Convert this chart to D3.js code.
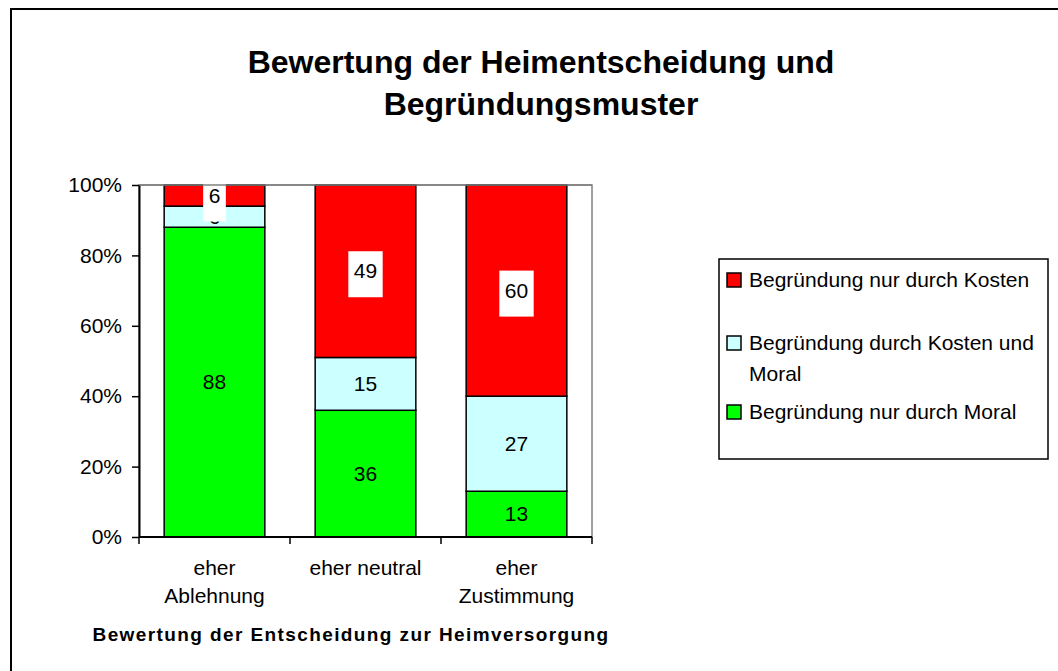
<!DOCTYPE html>
<html>
<head>
<meta charset="utf-8">
<script src="https://cdn.jsdelivr.net/npm/d3@7"></script>
<style>
  body { margin: 0; background: #fff; }
  svg text { font-family: "Liberation Sans", Arial, sans-serif; fill: #000; }
</style>
</head>
<body>
<svg id="chart" width="1058" height="671"></svg>
<script>
// data
var categories = ["eher Ablehnung", "eher neutral", "eher Zustimmung"];
var tickLabels = [["eher", "Ablehnung"], ["eher neutral"], ["eher", "Zustimmung"]];
var moral = [88, 36, 13];          // Begründung nur durch Moral
var kostenMoral = [6, 15, 27];     // Begründung durch Kosten und Moral
var kosten = [6, 49, 60];          // Begründung nur durch Kosten
var yTicks = [0, 20, 40, 60, 80, 100];

var series = [
  { name: "Begründung nur durch Moral", values: moral, color: "#00ff00", box: false },
  { name: "Begründung durch Kosten und Moral", values: kostenMoral, color: "#ccffff", box: false },
  { name: "Begründung nur durch Kosten", values: kosten, color: "#ff0000", box: true }
];
// legend lists top series first, long name wraps
var legendItems = [
  { lines: ["Begründung nur durch Kosten"], color: "#ff0000" },
  { lines: ["Begründung durch Kosten und", "Moral"], color: "#ccffff" },
  { lines: ["Begründung nur durch Moral"], color: "#00ff00" }
];

var svg = d3.select("#chart");

// chart area border (runs off right/bottom)
svg.append("rect")
  .attr("x", 11).attr("y", 9)
  .attr("width", 1100).attr("height", 700)
  .attr("fill", "none").attr("stroke", "#000").attr("stroke-width", 2);

// title
var title = svg.append("text")
  .attr("text-anchor", "middle")
  .attr("font-size", 32).attr("font-weight", "bold");
title.append("tspan").attr("x", 541).attr("y", 73).text("Bewertung der Heimentscheidung und");
title.append("tspan").attr("x", 541).attr("y", 115).text("Begründungsmuster");

var pLeft = 139, pRight = 592, pTop = 185, pBottom = 537;

var x = d3.scaleBand()
  .domain(categories)
  .range([pLeft, pRight])
  .paddingInner(1 / 3)
  .paddingOuter(1 / 6);

var y = d3.scaleLinear().domain([0, 100]).range([pBottom, pTop]);

// plot area border (gray)
svg.append("rect")
  .attr("x", pLeft).attr("y", pTop)
  .attr("width", pRight - pLeft).attr("height", pBottom - pTop)
  .attr("fill", "none").attr("stroke", "#808080").attr("stroke-width", 1.5);

// stack
var stack = d3.stack().keys(d3.range(series.length))
  .value(function (d, k) { return series[k].values[d]; });
var stacked = stack(d3.range(categories.length));

var layers = svg.selectAll("g.layer")
  .data(stacked)
  .join("g")
  .attr("class", "layer")
  .attr("fill", function (d, i) { return series[i].color; });

layers.selectAll("rect")
  .data(function (d) { return d; })
  .join("rect")
  .attr("x", function (d, i) { return x(categories[i]); })
  .attr("width", x.bandwidth())
  .attr("y", function (d) { return y(d[1]); })
  .attr("height", function (d) { return y(d[0]) - y(d[1]); })
  .attr("stroke", "#000")
  .attr("stroke-width", 1.5);

// data labels
stacked.forEach(function (layer, k) {
  layer.forEach(function (d, i) {
    var cx = x(categories[i]) + x.bandwidth() / 2;
    var cy = y((d[0] + d[1]) / 2);
    var g = svg.append("g");
    var t = g.append("text")
      .attr("x", cx).attr("y", cy + 7)
      .attr("text-anchor", "middle")
      .attr("font-size", 21)
      .text(series[k].values[i]);
    if (series[k].box) {
      var w = t.node().getComputedTextLength() + 11;
      g.insert("rect", "text")
        .attr("x", cx - w / 2).attr("y", cy - 20)
        .attr("width", w).attr("height", 46)
        .attr("fill", "#fff");
    }
  });
});

// redraw top edge of plot border over label boxes
svg.append("line")
  .attr("x1", pLeft).attr("x2", pRight).attr("y1", pTop).attr("y2", pTop)
  .attr("stroke", "#808080").attr("stroke-width", 1.5);

// y axis
var yAxis = svg.append("g")
  .attr("transform", "translate(" + pLeft + ",0)")
  .call(d3.axisLeft(y).tickValues(yTicks)
    .tickFormat(function (d) { return d + "%"; })
    .tickSize(7).tickSizeOuter(0).tickPadding(10));
yAxis.select(".domain").attr("stroke", "#000").attr("stroke-width", 2);
yAxis.selectAll(".tick line").attr("stroke", "#000").attr("stroke-width", 1.5);
yAxis.selectAll(".tick text")
  .attr("font-size", 21)
  .attr("font-family", "'Liberation Sans', Arial, sans-serif")
  .attr("fill", "#000");

// x axis: line plus ticks at band boundaries
svg.append("line")
  .attr("x1", pLeft).attr("x2", pRight).attr("y1", pBottom).attr("y2", pBottom)
  .attr("stroke", "#000").attr("stroke-width", 2);
var bounds = categories.map(function (c) {
  return x(c) - (x.step() - x.bandwidth()) / 2;
}).concat([pRight]);
svg.selectAll("line.xtick")
  .data(bounds)
  .join("line")
  .attr("class", "xtick")
  .attr("x1", function (d) { return d; }).attr("x2", function (d) { return d; })
  .attr("y1", pBottom).attr("y2", pBottom + 7)
  .attr("stroke", "#000").attr("stroke-width", 1.5);

var xLabels = svg.selectAll("text.xlabel")
  .data(categories)
  .join("text")
  .attr("class", "xlabel")
  .attr("text-anchor", "middle")
  .attr("font-size", 21);
xLabels.each(function (c, i) {
  var el = d3.select(this);
  tickLabels[i].forEach(function (line, j) {
    el.append("tspan")
      .attr("x", x(c) + x.bandwidth() / 2)
      .attr("y", 575 + j * 28)
      .text(line);
  });
});

// x axis title
svg.append("text")
  .attr("x", 351).attr("y", 641)
  .attr("text-anchor", "middle")
  .attr("font-size", 19).attr("font-weight", "bold")
  .attr("letter-spacing", 1.4)
  .text("Bewertung der Entscheidung zur Heimversorgung");

// legend
svg.append("rect")
  .attr("x", 719).attr("y", 259)
  .attr("width", 329).attr("height", 200)
  .attr("fill", "#fff").attr("stroke", "#000").attr("stroke-width", 1.5);

var legendY = [287, 350, 419];
legendItems.forEach(function (item, i) {
  svg.append("rect")
    .attr("x", 727).attr("y", legendY[i] - 14)
    .attr("width", 14).attr("height", 14)
    .attr("fill", item.color).attr("stroke", "#000").attr("stroke-width", 1.5);
  var t = svg.append("text").attr("font-size", 21);
  item.lines.forEach(function (line, j) {
    t.append("tspan").attr("x", 749).attr("y", legendY[i] + j * 31).text(line);
  });
});
</script>
</body>
</html>
